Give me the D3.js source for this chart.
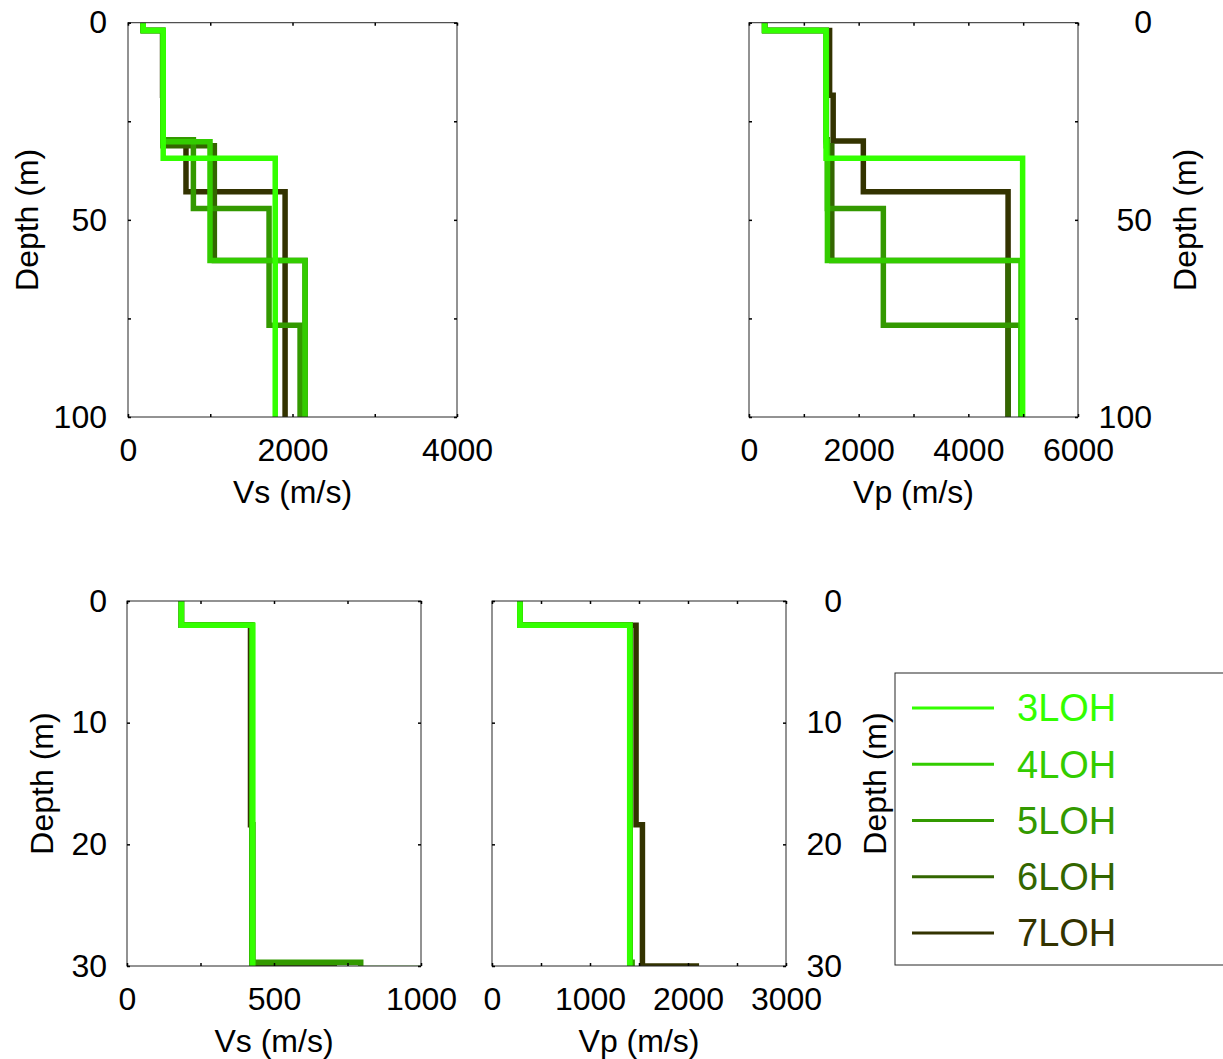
<!DOCTYPE html>
<html>
  <head>
    <meta charset="utf-8">
    <title>Velocity profiles LOH</title>
    <script src="https://d3js.org/d3.v7.min.js"></script>
    <style>
      body { margin: 0; background: #fff; }
      text { font-family: "Liberation Sans", Arial, sans-serif; fill: #000; }
    </style>
  </head>
  <body>
    <svg width="1223" height="1059"></svg>

    <script>
      // models, legend order
      var names = ["3LOH", "4LOH", "5LOH", "6LOH", "7LOH"];
      var colors = ["#33ff00", "#33cc00", "#339900", "#336600", "#333300"];

      // layer boundaries (m) and layer velocities (m/s)
      var depth3 = [0, 2, 34.4, 100];
      var vs3 = [185, 428, 1790];
      var vp3 = [285, 1405, 4990];

      var depth4 = [0, 2, 30.2, 60.3, 100];
      var vs4 = [185, 425, 997, 2153];
      var vp4 = [285, 1410, 1430, 4960];

      var depth5 = [0, 2, 29.7, 47.1, 76.7, 100];
      var vs5 = [185, 425, 795, 1715, 2092];
      var vp5 = [285, 1410, 1430, 2450, 4960];

      var depth6 = [0, 2, 31.2, 60.3, 100];
      var vs6 = [185, 425, 1050, 2153];
      var vp6 = [285, 1410, 1510, 4725];

      var depth7 = [0, 2, 18.4, 30.0, 42.9, 100];
      var vs7 = [185, 420, 428, 705, 1910];
      var vp7 = [285, 1470, 1535, 2085, 4725];

      var models = [
        { depth: depth3, vs: vs3, vp: vp3 },
        { depth: depth4, vs: vs4, vp: vp4 },
        { depth: depth5, vs: vs5, vp: vp5 },
        { depth: depth6, vs: vs6, vp: vp6 },
        { depth: depth7, vs: vs7, vp: vp7 }
      ];

      var svg = d3.select("svg");

      // panels: box in pixels, domains, ticks
      var panels = [
        { id: "a", left: 128, right: 457, top: 22.7, bottom: 417, key: "vs",
          xMax: 4000, xTicks: [0, 1000, 2000, 3000, 4000], xLabels: [0, 2000, 4000],
          yMax: 100, yTicks: [0, 25, 50, 75, 100], yLabels: [0, 50, 100],
          xTitle: "Vs (m/s)", side: "left", yLabelX: 107, yTitleX: 27 },
        { id: "b", left: 749, right: 1078, top: 22.7, bottom: 417, key: "vp",
          xMax: 6000, xTicks: [0, 1000, 2000, 3000, 4000, 5000, 6000], xLabels: [0, 2000, 4000, 6000],
          yMax: 100, yTicks: [0, 25, 50, 75, 100], yLabels: [0, 50, 100],
          xTitle: "Vp (m/s)", side: "right", yLabelX: 1152, yTitleX: 1185 },
        { id: "c", left: 127, right: 421, top: 601, bottom: 966, key: "vs",
          xMax: 1000, xTicks: [0, 250, 500, 750, 1000], xLabels: [0, 500, 1000],
          yMax: 30, yTicks: [0, 10, 20, 30], yLabels: [0, 10, 20, 30],
          xTitle: "Vs (m/s)", side: "left", yLabelX: 107, yTitleX: 42 },
        { id: "d", left: 492, right: 786, top: 601, bottom: 966, key: "vp",
          xMax: 3000, xTicks: [0, 500, 1000, 1500, 2000, 2500, 3000], xLabels: [0, 1000, 2000, 3000],
          yMax: 30, yTicks: [0, 10, 20, 30], yLabels: [0, 10, 20, 30],
          xTitle: "Vp (m/s)", side: "right", yLabelX: 842, yTitleX: 875 }
      ];

      var fs = 32;

      panels.forEach(function(p) {
        var x = d3.scaleLinear().domain([0, p.xMax]).range([p.left, p.right]);
        var y = d3.scaleLinear().domain([0, p.yMax]).range([p.top, p.bottom]);
        var w = p.right - p.left, h = p.bottom - p.top;

        svg.append("clipPath").attr("id", "clip-" + p.id)
          .append("rect").attr("x", p.left).attr("y", p.top).attr("width", w).attr("height", h);

        // step profiles, darkest first so 3LOH ends on top
        var line = d3.line().x(function(d) { return x(d[0]); }).y(function(d) { return y(d[1]); });
        var g = svg.append("g").attr("clip-path", "url(#clip-" + p.id + ")");
        for (var i = models.length - 1; i >= 0; i--) {
          var m = models[i], pts = [];
          var v = m[p.key];
          for (var k = 0; k < v.length; k++) {
            pts.push([v[k], m.depth[k]]);
            pts.push([v[k], m.depth[k + 1]]);
          }
          g.append("path").datum(pts)
            .attr("d", line)
            .attr("fill", "none")
            .attr("stroke", colors[i])
            .attr("stroke-width", 5.5)
            .attr("stroke-linejoin", "miter");
        }

        // box
        svg.append("rect").attr("x", p.left).attr("y", p.top).attr("width", w).attr("height", h)
          .attr("fill", "none").attr("stroke", "#262626").attr("stroke-width", 1);

        // tick marks on all four sides, pointing inward
        var tk = 3;
        svg.append("g").attr("transform", "translate(0," + p.bottom + ")")
          .call(d3.axisTop(x).tickValues(p.xTicks).tickSize(tk).tickFormat(""));
        svg.append("g").attr("transform", "translate(0," + p.top + ")")
          .call(d3.axisBottom(x).tickValues(p.xTicks).tickSize(tk).tickFormat(""));
        svg.append("g").attr("transform", "translate(" + p.left + ",0)")
          .call(d3.axisRight(y).tickValues(p.yTicks).tickSize(tk).tickFormat(""));
        svg.append("g").attr("transform", "translate(" + p.right + ",0)")
          .call(d3.axisLeft(y).tickValues(p.yTicks).tickSize(tk).tickFormat(""));
        svg.selectAll(".domain").remove();
        svg.selectAll(".tick line").attr("stroke", "#000").attr("stroke-width", 1.5);

        // tick labels
        var xl = svg.append("g").attr("transform", "translate(0," + p.bottom + ")")
          .call(d3.axisBottom(x).tickValues(p.xLabels).tickSize(0).tickPadding(21).tickFormat(d3.format("d")));
        xl.select(".domain").remove();
        xl.selectAll("text").attr("font-size", fs).attr("fill", "#000");

        // y labels are right aligned on either side
        var yl = svg.append("g").attr("transform", "translate(" + p.yLabelX + ",0)")
          .call(d3.axisLeft(y).tickValues(p.yLabels).tickSize(0).tickPadding(0).tickFormat(d3.format("d")));
        yl.select(".domain").remove();
        yl.selectAll("text").attr("font-size", fs).attr("fill", "#000");

        // titles
        svg.append("text").attr("x", (p.left + p.right) / 2).attr("y", p.bottom + 86)
          .attr("text-anchor", "middle").attr("font-size", fs).text(p.xTitle);
        svg.append("text")
          .attr("transform", "translate(" + p.yTitleX + "," + ((p.top + p.bottom) / 2) + ") rotate(-90)")
          .attr("text-anchor", "middle").attr("dy", "0.35em").attr("font-size", fs).text("Depth (m)");
      });

      // legend
      var lg = svg.append("g");
      lg.append("rect").attr("x", 895).attr("y", 673).attr("width", 340).attr("height", 292)
        .attr("fill", "#fff").attr("stroke", "#262626").attr("stroke-width", 1);
      var ly = d3.scalePoint().domain(names).range([708, 933]);
      names.forEach(function(n, i) {
        lg.append("line").attr("x1", 912).attr("x2", 994)
          .attr("y1", ly(n)).attr("y2", ly(n))
          .attr("stroke", colors[i]).attr("stroke-width", 3);
        lg.append("text").attr("x", 1017).attr("y", ly(n)).attr("dy", "0.35em")
          .attr("font-size", 38).style("fill", colors[i]).text(n);
      });
    </script>
  </body>
</html>
